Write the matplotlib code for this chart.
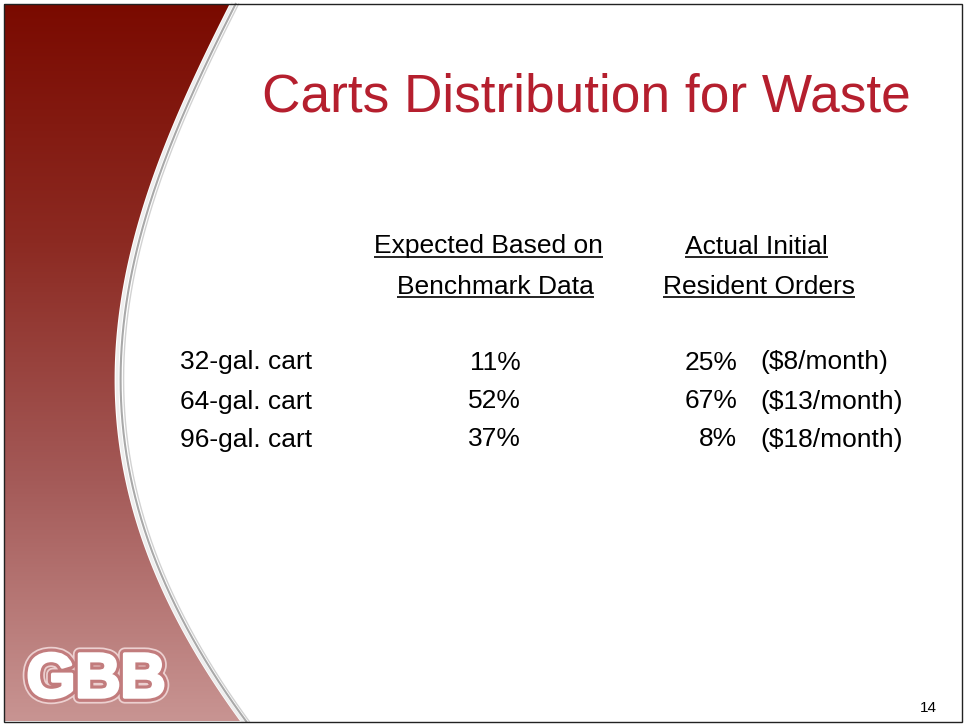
import numpy as np
import matplotlib
matplotlib.use("Agg")
import matplotlib.pyplot as plt
from matplotlib.patches import Polygon, Rectangle
from matplotlib.colors import LinearSegmentedColormap
import matplotlib.patheffects as pe

plt.rcParams['font.family'] = ['Liberation Sans', 'DejaVu Sans']

# slide content
title = "Carts Distribution for Waste"
header_expected = ["Expected Based on", "Benchmark Data"]
header_actual = ["Actual Initial", "Resident Orders"]
cart_sizes = ["32-gal. cart", "64-gal. cart", "96-gal. cart"]
expected_pct = [11, 52, 37]
actual_pct = [25, 67, 8]
monthly_price = [8, 13, 18]
page_number = "14"

# left swoosh edge (x, y in pixels)
edge_y = np.array([4, 60, 120, 180, 280, 370, 460, 540, 620, 721])
edge_x = np.array([230, 200, 177, 153, 120, 117, 123, 140, 177, 240])

W, H = 965, 724
fig = plt.figure(figsize=(W / 100, H / 100), dpi=100)
ax = fig.add_axes([0, 0, 1, 1])
ax.set_xlim(0, W)
ax.set_ylim(H, 0)
ax.axis("off")

# slide frame
L, T, R, B = 4, 4, 962, 721.5

# red gradient area, clipped to the curved edge
coef = np.polyfit(edge_y, edge_x, 4)
yy = np.linspace(T, B, 200)
xx = np.polyval(coef, yy)
verts = [(L, T)] + list(zip(xx, yy)) + [(L, B)]
clip = Polygon(verts, closed=True, facecolor="none", edgecolor="none")
ax.add_patch(clip)

grad = LinearSegmentedColormap.from_list(
    "slide", ["#7a0a00", "#8c2a22", "#a45a58", "#c89492"])
img = ax.imshow(np.linspace(0, 1, 256).reshape(-1, 1), cmap=grad, aspect="auto",
                extent=(L, 260, B, T), zorder=1)
img.set_clip_path(clip)

# silver band along the edge
ax.plot(xx + 2.5, yy, color="#eeeeee", lw=2.0, zorder=2)
ax.plot(xx + 6, yy, color="#a9a9a9", lw=1.5, zorder=2)
ax.plot(xx + 9, yy, color="#d2d2d2", lw=1.0, zorder=2)

ax.add_patch(Rectangle((L, T), R - L, B - T, fill=False, edgecolor="#222222",
                       lw=1.0, zorder=5))

# title
ax.text(262, 112, title, fontsize=38.3, color="#b51f2e", va="baseline", ha="left")

fs = 19
# column headers
head_items = [
    ax.text(374, 253.5, header_expected[0], fontsize=fs, va="baseline"),
    ax.text(397, 293.5, header_expected[1], fontsize=fs, va="baseline"),
    ax.text(685, 253.5, header_actual[0], fontsize=fs, va="baseline"),
    ax.text(663, 293.5, header_actual[1], fontsize=fs, va="baseline"),
]

row_base = [369.5, 408.5, 446.5]
for i, base in enumerate(row_base):
    ax.text(180, base, cart_sizes[i], fontsize=fs, va="baseline")
    ax.text(521, base, f"{expected_pct[i]}%", fontsize=fs, va="baseline", ha="right")
    ax.text(737, base, f"{actual_pct[i]}%", fontsize=fs, va="baseline", ha="right")
    ax.text(760, base, f"(${monthly_price[i]}/month)", fontsize=fs, va="baseline")

# underline the headers
fig.canvas.draw()
renderer = fig.canvas.get_renderer()
inv = ax.transData.inverted()
for t in head_items:
    bb = t.get_window_extent(renderer)
    (x0, _), (x1, _) = inv.transform([(bb.x0, bb.y0), (bb.x1, bb.y1)])
    y = t.get_position()[1] + 3
    ax.plot([x0, x1], [y, y], color="black", lw=1.2, solid_capstyle="butt")

# logo: heavy white letters with a pink rim and a faint light halo
ax.text(96, 697, "GBB", fontsize=45, fontweight="bold", color="white",
        ha="center", va="baseline", zorder=3,
        path_effects=[pe.Stroke(linewidth=9.5, foreground="#ecd0d0"),
                      pe.Stroke(linewidth=7, foreground="#c27c7d"),
                      pe.Stroke(linewidth=2.5, foreground="white"),
                      pe.Normal()])

ax.text(928, 712, page_number, fontsize=11, ha="center", va="baseline")

fig.savefig("out.png", dpi=100)
